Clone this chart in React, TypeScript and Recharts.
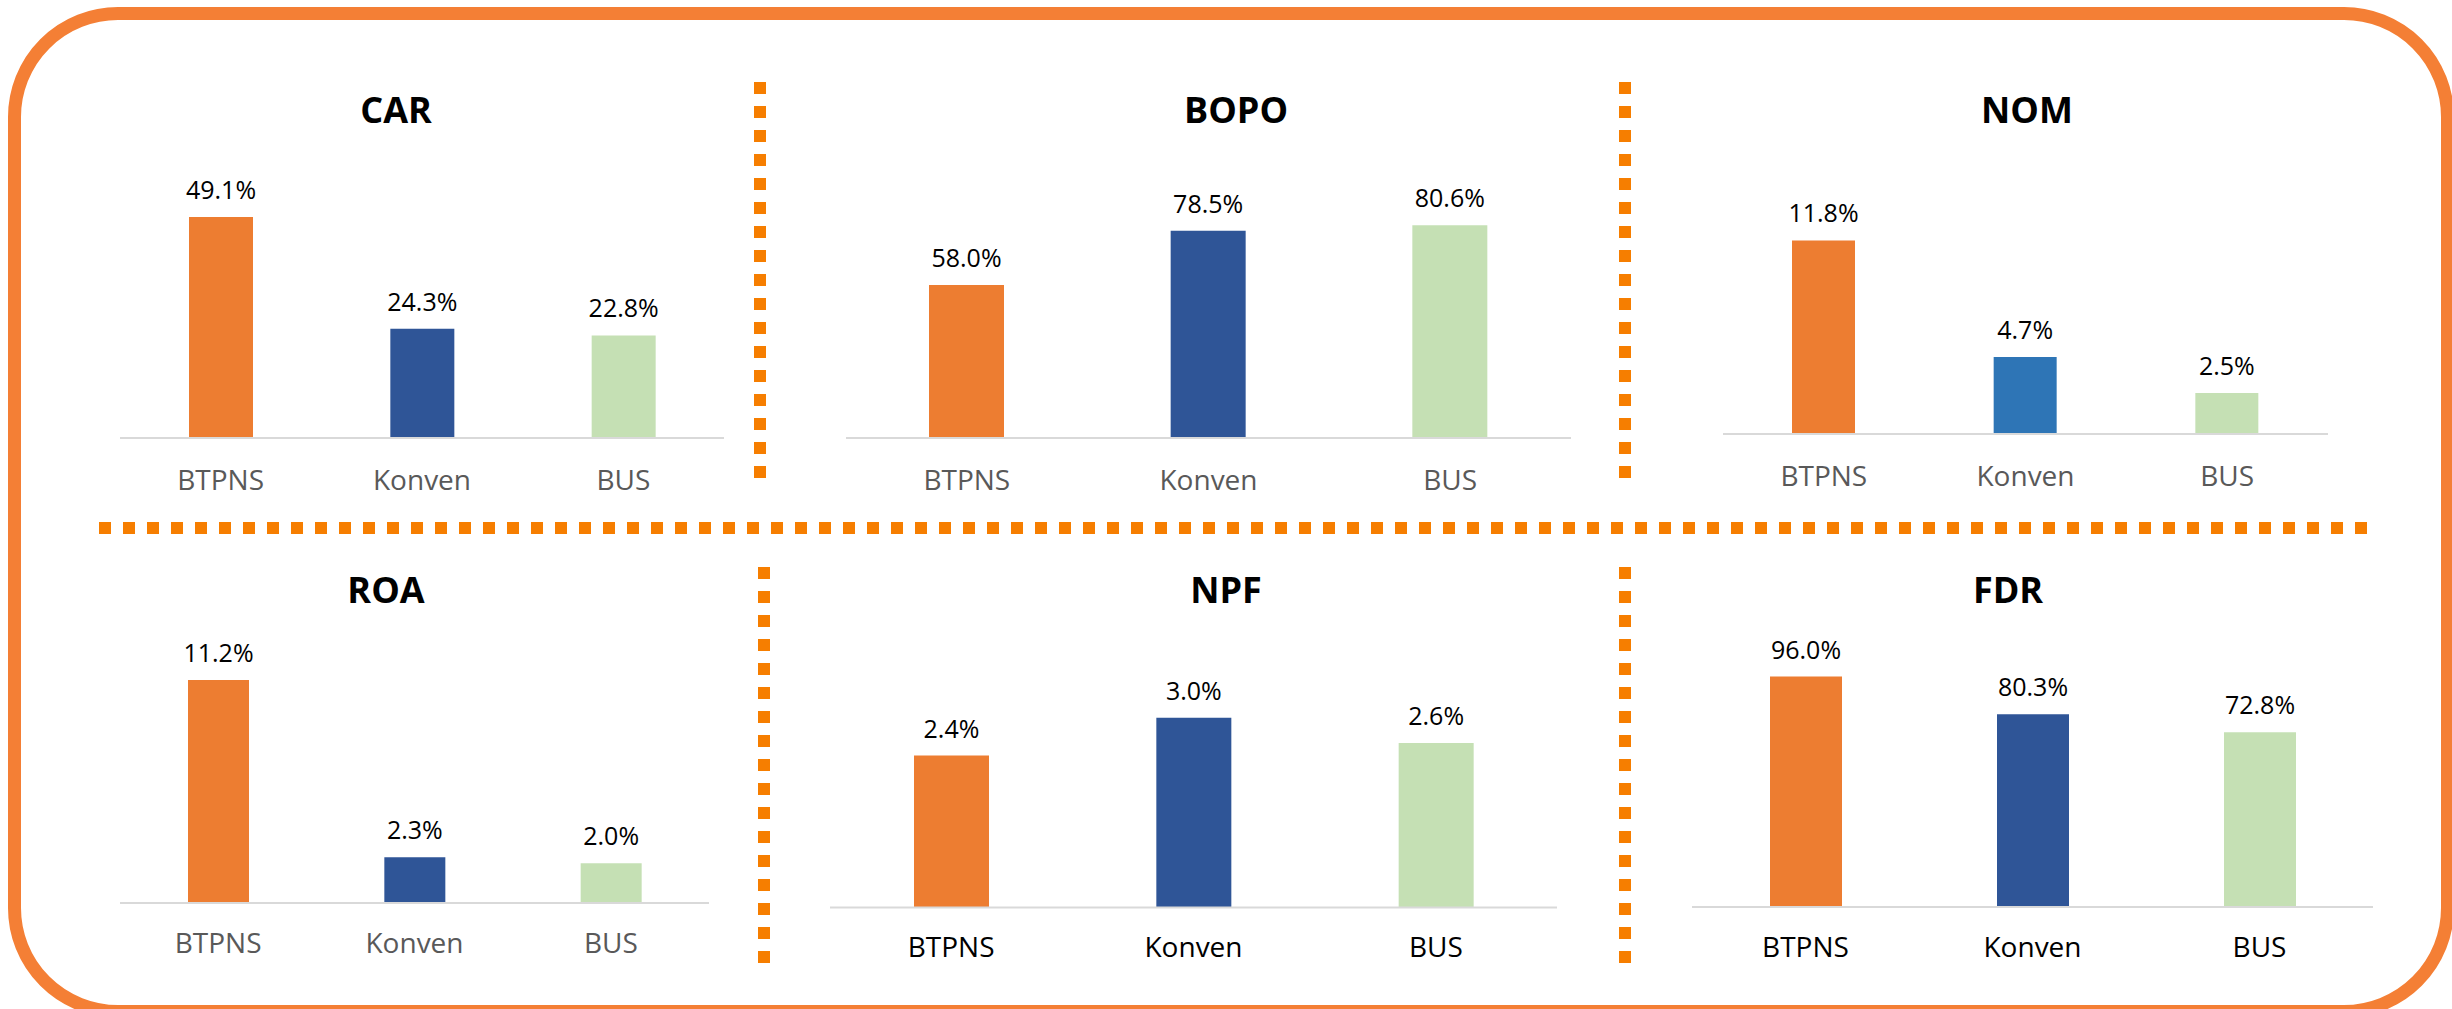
import React from 'react'
import { BarChart, Bar, XAxis, YAxis, Cell, LabelList } from 'recharts'

const categories = ['BTPNS', 'Konven', 'BUS']
const carValues = [49.1, 24.3, 22.8]
const bopoValues = [58.0, 78.5, 80.6]
const nomValues = [11.8, 4.7, 2.5]
const roaValues = [11.2, 2.3, 2.0]
const npfValues = [2.4, 3.0, 2.6]
const fdrValues = [96.0, 80.3, 72.8]

const ORANGE = '#ED7D31'
const NAVY = '#2F5597'
const BLUE = '#2E75B6'
const GREEN = '#C5E0B4'
const FONT = "'Segoe UI', 'Open Sans', sans-serif"

type Panel = {
  title: string
  values: number[]
  colors: string[]
  x0: number
  x1: number
  base: number
  domainMax: number
  plotH: number
  barSize: number
  tickColor: string
  tickMargin: number
  titleX: number
  titleY: number
}

const panels: Panel[] = [
  { title: 'CAR', values: carValues, colors: [ORANGE, NAVY, GREEN], x0: 120, x1: 724, base: 438, domainMax: 60, plotH: 270, barSize: 64, tickColor: '#595959', tickMargin: 32, titleX: 396, titleY: 123 },
  { title: 'BOPO', values: bopoValues, colors: [ORANGE, NAVY, GREEN], x0: 846, x1: 1571, base: 438, domainMax: 100, plotH: 264, barSize: 75, tickColor: '#595959', tickMargin: 32, titleX: 1236, titleY: 123 },
  { title: 'NOM', values: nomValues, colors: [ORANGE, BLUE, GREEN], x0: 1723, x1: 2328, base: 434, domainMax: 15, plotH: 246, barSize: 63, tickColor: '#595959', tickMargin: 32, titleX: 2027, titleY: 123 },
  { title: 'ROA', values: roaValues, colors: [ORANGE, NAVY, GREEN], x0: 120, x1: 709, base: 903, domainMax: 12, plotH: 239, barSize: 61, tickColor: '#595959', tickMargin: 30, titleX: 386, titleY: 603 },
  { title: 'NPF', values: npfValues, colors: [ORANGE, NAVY, GREEN], x0: 830, x1: 1557, base: 907, domainMax: 3.5, plotH: 221.5, barSize: 75, tickColor: '#000000', tickMargin: 30, titleX: 1226, titleY: 603 },
  { title: 'FDR', values: fdrValues, colors: [ORANGE, NAVY, GREEN], x0: 1692, x1: 2373, base: 907, domainMax: 100, plotH: 240, barSize: 72, tickColor: '#000000', tickMargin: 30, titleX: 2008, titleY: 603 },
]

const TOP_PAD = 70
const AXIS_H = 70

function MiniChart({ p }: { p: Panel }) {
  const data = categories.map((name, i) => ({ name, value: p.values[i] }))
  const width = p.x1 - p.x0
  const height = TOP_PAD + p.plotH + AXIS_H
  return (
    <div style={{ position: 'absolute', left: p.x0, top: p.base - p.plotH - TOP_PAD }}>
      <BarChart width={width} height={height} data={data} margin={{ top: TOP_PAD, right: 0, bottom: 0, left: 0 }}>
        <XAxis
          dataKey="name"
          height={AXIS_H}
          axisLine={{ stroke: '#D9D9D9', strokeWidth: 2 }}
          tickLine={false}
          tickSize={0}
          tickMargin={p.tickMargin}
          interval={0}
          tick={{ fill: p.tickColor, fontSize: 28, fontFamily: FONT }}
        />
        <YAxis hide domain={[0, p.domainMax]} />
        <Bar dataKey="value" barSize={p.barSize} isAnimationActive={false}>
          {data.map((d, i) => (
            <Cell key={d.name} fill={p.colors[i]} />
          ))}
          <LabelList
            dataKey="value"
            position="top"
            offset={18}
            formatter={(v: any) => `${Number(v).toFixed(1)}%`}
            fill="#000000"
            fontSize={25}
            fontFamily={FONT}
          />
        </Bar>
      </BarChart>
    </div>
  )
}

export default function App() {
  const dot = '#F67E00'
  return (
    <div style={{ position: 'absolute', left: 0, top: 0, width: 2452, height: 1009, overflow: 'hidden', background: '#fff' }}>
      <div
        style={{
          position: 'absolute',
          left: 8,
          top: 7,
          width: 2446,
          height: 1011,
          border: '13px solid #F47F35',
          borderRadius: 110,
          boxSizing: 'border-box',
        }}
      />
      <svg width={2452} height={1009} style={{ position: 'absolute', left: 0, top: 0 }}>
        <line x1={760} y1={82} x2={760} y2={482} stroke={dot} strokeWidth={12} strokeDasharray="12 12" />
        <line x1={1625} y1={82} x2={1625} y2={482} stroke={dot} strokeWidth={12} strokeDasharray="12 12" />
        <line x1={99} y1={528} x2={2373} y2={528} stroke={dot} strokeWidth={12} strokeDasharray="12 12" />
        <line x1={764} y1={567} x2={764} y2={967} stroke={dot} strokeWidth={12} strokeDasharray="12 12" />
        <line x1={1625} y1={567} x2={1625} y2={967} stroke={dot} strokeWidth={12} strokeDasharray="12 12" />
        {panels.map((p) => (
          <text key={p.title} x={p.titleX} y={p.titleY} textAnchor="middle" fontFamily={FONT} fontWeight="bold" fontSize={36} fill="#000">
            {p.title}
          </text>
        ))}
      </svg>
      {panels.map((p) => (
        <MiniChart key={p.title} p={p} />
      ))}
    </div>
  )
}
